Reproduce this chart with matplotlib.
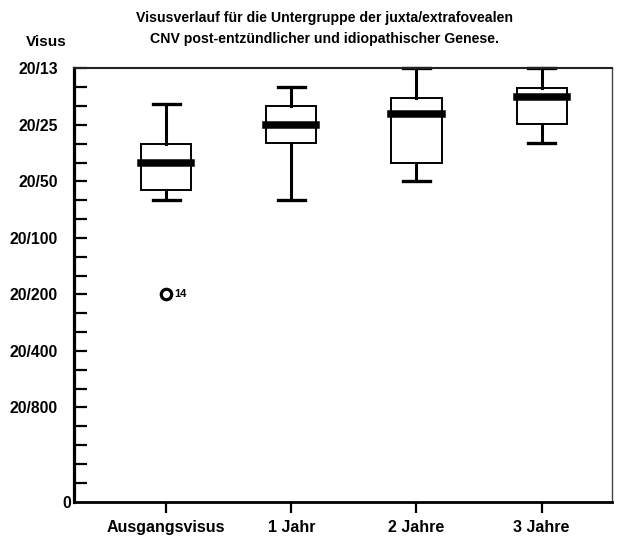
import matplotlib
matplotlib.use("Agg")
import matplotlib.pyplot as plt

plt.rcParams['font.family'] = ['Liberation Sans', 'DejaVu Sans']

# Visual acuity on an ordinal scale: 0 = bottom, each step one row of the chart
categories = ["Ausgangsvisus", "1 Jahr", "2 Jahre", "3 Jahre"]
whisker_low = [16.0, 16.0, 17.0, 19.05]
q1 = [16.55, 19.05, 18.0, 20.05]
median = [18.0, 20.0, 20.55, 21.5]
q3 = [19.0, 21.0, 21.45, 21.95]
whisker_high = [21.1, 22.0, 23.0, 23.0]
outliers = [[11.0], [], [], []]
outlier_ids = [["14"], [], [], []]

tick_values = [0, 5, 8, 11, 14, 17, 20, 23]
tick_labels = ["0", "20/800", "20/400", "20/200", "20/100", "20/50", "20/25", "20/13"]

fig = plt.figure(figsize=(6.18, 5.38), dpi=100)
ax = fig.add_axes([74 / 618, 1 - 501.7 / 538, (612 - 74) / 618, (501.7 - 68.3) / 538])

stats = []
for i, name in enumerate(categories):
    stats.append(dict(label=name, med=median[i], q1=q1[i], q3=q3[i],
                      whislo=whisker_low[i], whishi=whisker_high[i],
                      fliers=outliers[i]))

positions = list(range(1, len(categories) + 1))
art = ax.bxp(stats, positions=positions, widths=0.4, capwidths=0.215,
             patch_artist=True,
             boxprops=dict(facecolor="white", edgecolor="black", linewidth=1.4),
             medianprops=dict(color="black", linewidth=5.4, solid_capstyle="projecting"),
             whiskerprops=dict(color="black", linewidth=2.2),
             capprops=dict(color="black", linewidth=2.4),
             flierprops=dict(marker="o", markersize=7.5, markerfacecolor="white",
                             markeredgecolor="black", markeredgewidth=2.3))
for group in art.values():
    for a in group:
        a.set_clip_on(False)

for i, vals in enumerate(outliers):
    for v, lab in zip(vals, outlier_ids[i]):
        ax.annotate(lab, (positions[i], v), xytext=(5.5, 0), textcoords="offset points",
                    ha="left", va="center", fontsize=8, fontweight="bold")

ax.set_xlim(0.262, 4.563)
ax.set_ylim(0, 23)

ax.set_yticks(range(0, 24))
labels = []
for t in range(0, 24):
    labels.append(tick_labels[tick_values.index(t)] if t in tick_values else "")
ax.set_yticklabels(labels, fontsize=11.3, fontweight="bold")
ax.tick_params(axis="y", direction="in", length=9.5, width=1.6, pad=11.5)
ax.yaxis.get_major_ticks()[0].set_pad(2)
ax.yaxis.get_major_ticks()[0].tick1line.set_visible(False)

ax.set_xticks(positions)
ax.set_xticklabels(categories, fontsize=11.5, fontweight="bold")
ax.tick_params(axis="x", direction="out", length=8, width=1.6, pad=5)

ax.spines["left"].set_linewidth(2.3)
ax.spines["bottom"].set_linewidth(2.0)
ax.spines["top"].set_linewidth(1.5)
ax.spines["top"].set_color("#222222")
ax.spines["right"].set_linewidth(1.0)
ax.spines["right"].set_color("#444444")

fig.text(325 / 618, 1 - 11 / 538,
         "Visusverlauf für die Untergruppe der juxta/extrafovealen\n"
         "CNV post-entzündlicher und idiopathischer Genese.",
         ha="center", va="top", fontsize=10.2, fontweight="bold", linespacing=1.65)
fig.text(46 / 618, 1 - 42 / 538, "Visus", ha="center", va="center",
         fontsize=11, fontweight="bold")

fig.savefig("out.png", dpi=100)
